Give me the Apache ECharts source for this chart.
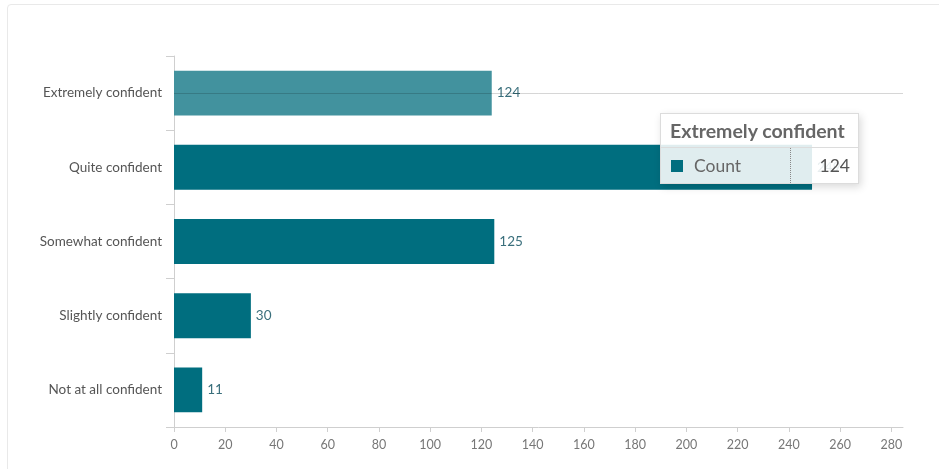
<!DOCTYPE html>
<html>
<head>
<meta charset="utf-8">
<script src="https://cdn.jsdelivr.net/npm/echarts@6/dist/echarts.min.js"></script>
<style>
  html, body { margin: 0; padding: 0; background: #fff; }
  #card { position: absolute; left: 7px; top: 4px; width: 1000px; height: 1000px; border: 1px solid #e9e9e9; border-radius: 4px; box-sizing: border-box; }
  #chart { position: absolute; left: 0; top: 0; width: 939px; height: 469px; }
</style>
</head>
<body>
<div id="card"></div>
<div id="chart"></div>
<script>
const categories = ['Extremely confident', 'Quite confident', 'Somewhat confident', 'Slightly confident', 'Not at all confident'];
const counts = [124, 249, 125, 30, 11];
const seriesName = 'Count';
const xTicks = [0, 20, 40, 60, 80, 100, 120, 140, 160, 180, 200, 220, 240, 260, 280];
const xMax = 284.5;

const chart = echarts.init(document.getElementById('chart'), null, { renderer: 'canvas' });
const FONT = 'Lato, "Noto Sans", sans-serif';

chart.setOption({
  animation: false,
  backgroundColor: 'transparent',
  grid: { left: 174, right: 36, top: 56, bottom: 42, containLabel: false },
  tooltip: {
    trigger: 'axis',
    triggerOn: 'none',
    alwaysShowContent: true,
    transitionDuration: 0,
    padding: 0,
    borderWidth: 1,
    borderColor: '#dcdcdc',
    borderRadius: 0,
    backgroundColor: 'rgba(255,255,255,0.88)',
    extraCssText: 'box-shadow: 2px 3px 8px rgba(0,0,0,0.15);',
    position: [660, 113],
    axisPointer: { type: 'line', lineStyle: { color: 'rgba(0,0,0,0.16)', width: 1, type: 'solid' } },
    formatter: function (params) {
      const p = params[0];
      return '<div style="width:197px;font-family:' + FONT.replace(/"/g, "'") + ';">' +
        '<div style="padding:0 9px;height:33px;line-height:33px;font-weight:bold;font-size:19.5px;color:#666;border-bottom:1px solid #dcdcdc;white-space:nowrap;">' + p.name + '</div>' +
        '<div style="display:flex;height:35px;align-items:center;font-size:17.5px;color:#666;">' +
          '<div style="width:119px;padding-left:10px;height:100%;display:flex;align-items:center;border-right:1px dotted #888;">' +
            '<span style="display:inline-block;width:12px;height:12px;background:#006e7f;margin-right:11px;"></span>' + p.seriesName + '</div>' +
          '<div style="flex:1;text-align:right;padding-right:8px;color:#555;">' + p.value + '</div>' +
        '</div></div>';
    }
  },
  xAxis: {
    type: 'value',
    min: 0,
    max: xMax,
    interval: 20,
    splitLine: { show: false },
    axisLine: { show: true, lineStyle: { color: '#cfcfcf', width: 1 } },
    axisTick: { show: true, length: 5, lineStyle: { color: '#cfcfcf' }, customValues: xTicks },
    axisLabel: { color: '#777', fontSize: 12.5, fontFamily: FONT, margin: 11, customValues: xTicks }
  },
  yAxis: {
    type: 'category',
    inverse: true,
    data: categories,
    axisLine: { show: true, lineStyle: { color: '#cfcfcf', width: 1 } },
    axisTick: { show: true, length: 8, lineStyle: { color: '#cfcfcf' } },
    axisLabel: { color: '#555', fontSize: 13.5, fontFamily: FONT, margin: 12 },
    splitLine: { show: false }
  },
  series: [{
    name: seriesName,
    type: 'bar',
    data: counts,
    barCategoryGap: '39.5%',
    itemStyle: { color: '#006e7f' },
    emphasis: { itemStyle: { color: '#42929e' }, label: { color: '#3a6f7c' } },
    label: { show: true, position: 'right', distance: 5, color: '#3a6f7c', fontSize: 13.5, fontFamily: FONT }
  }]
});

chart.dispatchAction({ type: 'showTip', seriesIndex: 0, dataIndex: 0 });
chart.dispatchAction({ type: 'highlight', seriesIndex: 0, dataIndex: 0 });
</script>
</body>
</html>
